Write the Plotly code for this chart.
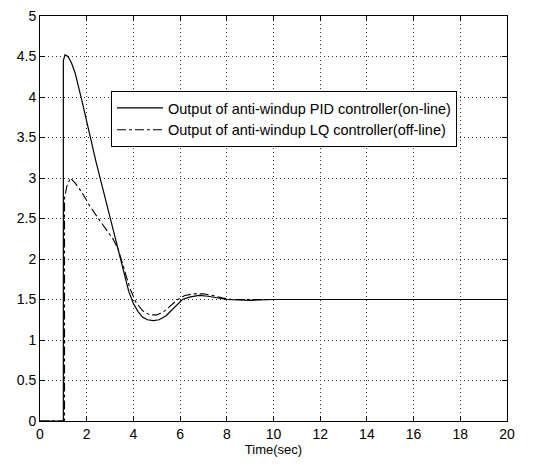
import plotly.graph_objects as go

# PID controller output (solid)
pid_t = [0, 1.0, 1.0, 1.07, 1.2, 1.35, 1.5, 1.65, 1.8, 2.0, 2.2, 2.4, 2.6, 2.8, 3.0, 3.2,
         3.4, 3.6, 3.8, 4.0, 4.2, 4.4, 4.6, 4.85, 5.1, 5.4, 5.75, 6.1, 6.4, 6.8, 7.2, 7.6,
         8.0, 9.0, 10, 20]
pid_v = [0, 0, 4.45, 4.52, 4.5, 4.42, 4.3, 4.14, 3.95, 3.7, 3.44, 3.2, 2.97, 2.74, 2.5, 2.27,
         2.03, 1.8, 1.6, 1.45, 1.35, 1.28, 1.25, 1.24, 1.25, 1.3, 1.4, 1.5, 1.53, 1.55, 1.54, 1.52,
         1.5, 1.49, 1.5, 1.5]

# LQ controller output (dash-dot)
lq_t = [0, 1.05, 1.05, 1.15, 1.3, 1.5, 1.8, 2.14, 2.5, 2.8, 3.14, 3.35, 3.6, 3.85, 4.1, 4.4,
        4.7, 5.0, 5.3, 5.6, 5.9, 6.2, 6.6, 7.0, 7.4, 7.8, 8.2, 9, 10, 20]
lq_v = [0, 0, 2.75, 2.9, 3.0, 2.94, 2.82, 2.65, 2.5, 2.38, 2.24, 2.12, 1.88, 1.64, 1.47, 1.36,
        1.31, 1.31, 1.35, 1.43, 1.5, 1.55, 1.57, 1.57, 1.55, 1.52, 1.5, 1.5, 1.5, 1.5]

x_ticks = list(range(0, 21, 2))
y_ticks = [0, 0.5, 1, 1.5, 2, 2.5, 3, 3.5, 4, 4.5, 5]
y_labels = ["0", "0.5", "1", "1.5", "2", "2.5", "3", "3.5", "4", "4.5", "5"]

fig = go.Figure()
fig.add_trace(go.Scatter(x=pid_t, y=pid_v, mode="lines",
                         name="Output of anti-windup PID controller(on-line)",
                         line=dict(color="black", width=1.2)))
fig.add_trace(go.Scatter(x=lq_t, y=lq_v, mode="lines",
                         name="Output of anti-windup LQ controller(off-line)",
                         line=dict(color="black", width=1.1, dash="dashdot")))

axis_common = dict(showline=True, linecolor="black", linewidth=1, mirror="ticks",
                   ticks="inside", ticklen=5, tickcolor="black",
                   showgrid=True, gridcolor="#333333", griddash="1px,3px", gridwidth=1,
                   zeroline=False, automargin=False, ticklabeloverflow="allow",
                   tickfont=dict(size=14, color="black"))

fig.update_xaxes(range=[0, 20], tickvals=x_ticks,
                 title=dict(text="Time(sec)", font=dict(size=13), standoff=0),
                 **axis_common)
fig.update_yaxes(range=[0, 5], tickvals=y_ticks, ticktext=y_labels, **axis_common)

fig.update_layout(
    width=539, height=457,
    margin=dict(l=32, r=40, t=8, b=44),
    paper_bgcolor="white", plot_bgcolor="white",
    font=dict(family="Liberation Sans, Arial, sans-serif", color="black"),
    showlegend=True,
    legend=dict(x=0.152, y=0.815, xanchor="left", yanchor="top",
                bgcolor="white", bordercolor="black", borderwidth=1,
                font=dict(size=14.5), tracegroupgap=0, itemwidth=46),
)

fig.write_html("out.html")
